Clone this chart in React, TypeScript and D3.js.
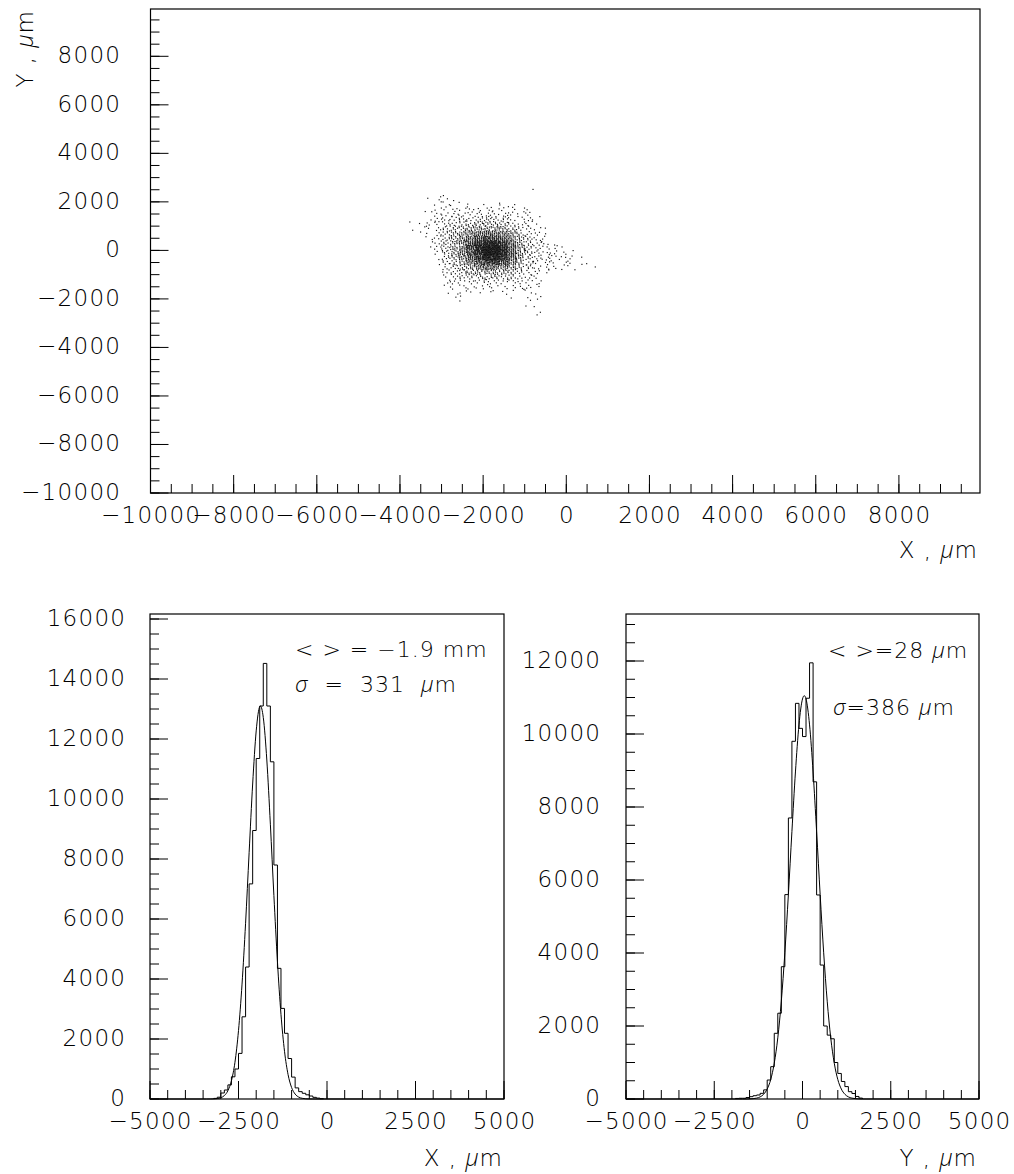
import React from 'react';
import * as d3 from 'd3';

const FONT = "'DejaVu Sans', sans-serif";
const FONT_GREEK = "'Open Sans', 'Lato', 'DejaVu Sans', sans-serif";

// ---------- 2D scatter: cell contents of 200 µm x 200 µm bins ----------
const scatterX0 = -4000; // lower x edge of first column
const scatterY0 = 2600; // upper y edge of first row
const scatterBin = 200;
const scatterCounts: number[][] = [
  [0, 0, 0, 0, 0, 0, 0, 0, 0, 0, 0, 0, 0, 0, 0, 1, 0, 0, 0, 0, 0, 0, 0, 0],
  [0, 0, 0, 0, 1, 1, 0, 0, 0, 0, 0, 0, 0, 0, 0, 0, 0, 0, 0, 0, 0, 0, 0, 0],
  [0, 0, 0, 1, 2, 1, 1, 0, 0, 0, 0, 0, 0, 0, 0, 0, 0, 0, 0, 0, 0, 0, 0, 0],
  [0, 0, 0, 0, 1, 2, 1, 1, 1, 0, 1, 1, 1, 2, 0, 0, 0, 0, 0, 0, 0, 0, 0, 0],
  [0, 0, 0, 1, 2, 2, 3, 2, 3, 2, 3, 2, 2, 2, 1, 1, 0, 0, 0, 0, 0, 0, 0, 0],
  [0, 0, 0, 1, 3, 3, 3, 3, 3, 4, 3, 3, 3, 3, 2, 3, 0, 0, 0, 0, 0, 0, 0, 0],
  [0, 0, 0, 1, 3, 3, 4, 5, 5, 5, 6, 5, 5, 3, 3, 3, 1, 0, 0, 0, 0, 0, 0, 0],
  [0, 1, 1, 2, 3, 4, 5, 6, 6, 8, 8, 8, 6, 5, 3, 3, 1, 0, 0, 0, 0, 0, 0, 0],
  [0, 1, 1, 2, 3, 5, 6, 8, 9, 11, 12, 11, 9, 6, 5, 3, 2, 1, 0, 0, 0, 0, 0, 0],
  [0, 0, 1, 1, 3, 5, 8, 11, 14, 18, 20, 18, 15, 11, 6, 4, 3, 1, 0, 0, 0, 0, 0, 0],
  [0, 0, 0, 2, 3, 6, 9, 13, 18, 26, 30, 28, 22, 14, 9, 5, 3, 2, 0, 0, 0, 0, 0, 0],
  [0, 0, 0, 1, 3, 6, 10, 15, 24, 36, 46, 44, 32, 19, 10, 6, 3, 3, 1, 0, 0, 0, 0, 0],
  [0, 0, 0, 1, 3, 6, 10, 16, 28, 44, 56, 55, 40, 22, 11, 6, 4, 3, 2, 1, 0, 0, 0, 0],
  [0, 0, 0, 0, 2, 6, 9, 16, 26, 42, 56, 56, 42, 22, 11, 7, 4, 3, 3, 2, 1, 0, 0, 0],
  [0, 0, 0, 0, 1, 5, 8, 14, 22, 34, 46, 48, 36, 20, 10, 6, 4, 3, 3, 3, 2, 1, 0, 0],
  [0, 0, 0, 0, 1, 5, 6, 11, 16, 24, 30, 32, 26, 15, 9, 5, 3, 3, 2, 2, 2, 1, 1, 0],
  [0, 0, 0, 0, 0, 3, 5, 8, 11, 15, 18, 18, 15, 10, 6, 5, 3, 2, 2, 1, 1, 1, 0, 1],
  [0, 0, 0, 0, 0, 3, 5, 6, 8, 9, 10, 10, 9, 6, 5, 3, 3, 2, 0, 0, 0, 0, 0, 0],
  [0, 0, 0, 0, 0, 2, 3, 5, 5, 6, 6, 6, 5, 5, 3, 3, 2, 0, 0, 0, 0, 0, 0, 0],
  [0, 0, 0, 0, 0, 2, 3, 3, 3, 3, 5, 3, 3, 3, 3, 3, 2, 0, 0, 0, 0, 0, 0, 0],
  [0, 0, 0, 0, 0, 1, 2, 3, 2, 2, 3, 2, 2, 2, 2, 3, 2, 0, 0, 0, 0, 0, 0, 0],
  [0, 0, 0, 0, 0, 1, 1, 2, 1, 1, 1, 1, 1, 1, 1, 2, 1, 0, 0, 0, 0, 0, 0, 0],
  [0, 0, 0, 0, 0, 0, 1, 1, 0, 0, 0, 0, 1, 1, 0, 1, 1, 0, 0, 0, 0, 0, 0, 0],
  [0, 0, 0, 0, 0, 0, 0, 1, 0, 0, 0, 0, 0, 0, 0, 1, 1, 0, 0, 0, 0, 0, 0, 0],
  [0, 0, 0, 0, 0, 0, 0, 0, 0, 0, 0, 0, 0, 0, 0, 1, 1, 0, 0, 0, 0, 0, 0, 0],
  [0, 0, 0, 0, 0, 0, 0, 0, 0, 0, 0, 0, 0, 0, 0, 0, 1, 0, 0, 0, 0, 0, 0, 0],
  [0, 0, 0, 0, 0, 0, 0, 0, 0, 0, 0, 0, 0, 0, 0, 0, 1, 0, 0, 0, 0, 0, 0, 0],
];

// ---------- X projection (100 µm bins) ----------
const histBin = 100;
const xHistStart = -3200;
const xHistCounts = [
  20, 60, 200, 300, 470, 740, 1000, 1520, 2740, 4400, 7170, 8950, 11350, 13100,
  14520, 13100, 11240, 7800, 4355, 3020, 2190, 1350, 730, 370, 245, 190, 140, 100,
  55, 30, 10,
];
const xFitX = [
  -5000, -3500, -3400, -3300, -3200, -3100, -3000, -2900, -2800, -2700, -2600, -2500,
  -2400, -2300, -2200, -2100, -2000, -1900, -1880, -1800, -1700, -1600, -1500, -1400,
  -1300, -1200, -1100, -1000, -900, -800, -700, -600, -500, -400, 5000,
];
const xFitY = [
  0, 0, 0.4, 1.3, 4.6, 15, 43, 113, 276, 608, 1225, 2280, 3830, 5860, 8210, 10500,
  12270, 13080, 13100, 12720, 11300, 9160, 6780, 4580, 2820, 1590, 816, 382, 164, 64,
  23, 7, 2, 0.5, 0,
];

// ---------- Y projection (100 µm bins) ----------
const yHistStart = -1900;
const yHistCounts = [
  15, 20, 20, 40, 64, 90, 110, 155, 250, 520, 886, 1800, 2350, 3625, 5600, 7700,
  9800, 10840, 10155, 9930, 10980, 11950, 8690, 5590, 3670, 2000, 1750, 1650, 1000,
  700, 480, 340, 200, 150, 70, 25,
];
const yFitX = [
  -5000, -1800, -1700, -1600, -1500, -1400, -1300, -1200, -1100, -1000, -900, -800,
  -700, -600, -500, -400, -300, -200, -100, 0, 50, 100, 200, 300, 400, 500, 600, 700,
  800, 900, 1000, 1100, 1200, 1300, 1400, 1500, 1600, 1700, 1800, 5000,
];
const yFitY = [
  0, 0.2, 0.4, 1.2, 3.5, 9.5, 24, 58, 130, 273, 534, 981, 1675, 2680, 4005, 5600, 7325,
  8960, 10250, 10960, 11050, 10960, 10250, 8960, 7325, 5600, 4005, 2680, 1675, 981,
  534, 273, 130, 58, 24, 9.5, 3.5, 1.2, 0.4, 0,
];

// ---------- tick values ----------
const topMajor = [-10000, -8000, -6000, -4000, -2000, 0, 2000, 4000, 6000, 8000];
const histXMajor = [-5000, -2500, 0, 2500, 5000];
const leftYMajor = [0, 2000, 4000, 6000, 8000, 10000, 12000, 14000, 16000];
const rightYMajor = [0, 2000, 4000, 6000, 8000, 10000, 12000];

const TICK_MAJ = 18;
const TICK_MIN = 9;
const LABEL_SIZE = 23;
const LS = 1.3; // letter spacing

const fmt = (v: number) => (v < 0 ? '\u2212' + Math.abs(v) : String(v));

function minorTicks(lo: number, hi: number, step: number) {
  const out: number[] = [];
  for (let v = Math.ceil(lo / step) * step; v <= hi + 1e-6; v += step) out.push(v);
  return out;
}

type Scale = d3.ScaleLinear<number, number>;

function Axes({
  sx, sy, xMajor, yMajor, xMinorStep, yMinorStep, xLabelY, yLabelX,
}: {
  sx: Scale; sy: Scale; xMajor: number[]; yMajor: number[]; xMinorStep: number;
  yMinorStep: number; xLabelY: number; yLabelX: number;
}) {
  const [x0, x1] = sx.range();
  const [y0, y1] = sy.range(); // y0 bottom, y1 top
  const xd = sx.domain();
  const yd = sy.domain();
  const xMin = minorTicks(xd[0], xd[1], xMinorStep);
  const yMin = minorTicks(yd[0], yd[1], yMinorStep);
  return (
    <g>
      <rect x={x0} y={y1} width={x1 - x0} height={y0 - y1} fill="none" stroke="#000" strokeWidth={1.2} />
      <g stroke="#000" strokeWidth={1}>
        {xMin.map((v, i) => (
          <line key={'xm' + i} x1={sx(v)} x2={sx(v)} y1={y0} y2={y0 - TICK_MIN} />
        ))}
        {xMajor.map((v, i) => (
          <line key={'xM' + i} x1={sx(v)} x2={sx(v)} y1={y0} y2={y0 - TICK_MAJ} />
        ))}
        {yMin.map((v, i) => (
          <line key={'ym' + i} x1={x0} x2={x0 + TICK_MIN} y1={sy(v)} y2={sy(v)} />
        ))}
        {yMajor.map((v, i) => (
          <line key={'yM' + i} x1={x0} x2={x0 + TICK_MAJ} y1={sy(v)} y2={sy(v)} />
        ))}
      </g>
      <g fontFamily={FONT} fontSize={LABEL_SIZE} fill="#000" fontWeight={200} letterSpacing={LS}>
        {xMajor.map((v, i) => (
          <text key={'xl' + i} x={sx(v) + LS / 2} y={xLabelY} textAnchor="middle">
            {fmt(v)}
          </text>
        ))}
        {yMajor.map((v, i) => (
          <text key={'yl' + i} x={yLabelX + LS} y={sy(v) + 7} textAnchor="end">
            {fmt(v)}
          </text>
        ))}
      </g>
    </g>
  );
}

function stepPath(start: number, counts: number[], sx: Scale, sy: Scale) {
  const p = d3.path();
  p.moveTo(sx(start), sy(0));
  counts.forEach((c, i) => {
    const lo = start + i * histBin;
    p.lineTo(sx(lo), sy(c));
    p.lineTo(sx(lo + histBin), sy(c));
  });
  p.lineTo(sx(start + counts.length * histBin), sy(0));
  return p.toString();
}

const Greek = ({ ch }: { ch: string }) => (
  <tspan fontFamily={FONT_GREEK} fontStyle="italic" fontWeight={300}>
    {ch}
  </tspan>
);

export default function App() {
  // top scatter
  const sx = d3.scaleLinear().domain([-10000, 9950]).range([150.5, 980]);
  const sy = d3.scaleLinear().domain([-10000, 9950]).range([493, 9]);

  // histograms
  const hx1 = d3.scaleLinear().domain([-5000, 5000]).range([150, 504]);
  const hy1 = d3.scaleLinear().domain([0, 16167]).range([1099, 614]);
  const hx2 = d3.scaleLinear().domain([-5000, 5000]).range([626, 979]);
  const hy2 = d3.scaleLinear().domain([0, 13288]).range([1099, 614]);

  const dots: React.ReactNode[] = [];
  scatterCounts.forEach((row, r) =>
    row.forEach((n, c) => {
      const xl = scatterX0 + c * scatterBin;
      const yt = scatterY0 - r * scatterBin;
      const px0 = sx(xl);
      const px1 = sx(xl + scatterBin);
      const py0 = sy(yt);
      const py1 = sy(yt - scatterBin);
      const seed = (r * 37 + c * 61 + r * c * 7) % 127;
      for (let k = 0; k < n; k++) {
        const t = k + seed;
        const fx = (0.37 + t * 0.7548776662) % 1;
        const fy = (0.61 + t * 0.569840291) % 1;
        dots.push(
          <rect
            key={`${r}-${c}-${k}`}
            x={px0 + fx * (px1 - px0) - 0.55}
            y={py0 + fy * (py1 - py0) - 0.55}
            width={1.15}
            height={1.15}
          />
        );
      }
    })
  );

  const fitLine = (xs: number[], ys: number[], hx: Scale, hy: Scale) =>
    d3
      .line<number>()
      .x((_, i) => hx(xs[i]))
      .y((d) => hy(d))
      .curve(d3.curveMonotoneX)(ys) || '';

  const textStyle = { whiteSpace: 'pre' as const };

  return (
    <svg
      width={1014}
      height={1174}
      style={{ position: 'absolute', left: 0, top: 0, background: '#fff', display: 'block' }}
    >
      <rect width={1014} height={1174} fill="#fff" />

      {/* ---------------- top scatter ---------------- */}
      <g fill="#111">{dots}</g>
      <Axes
        sx={sx}
        sy={sy}
        xMajor={topMajor}
        yMajor={topMajor}
        xMinorStep={500}
        yMinorStep={500}
        xLabelY={523}
        yLabelX={120}
      />
      <g fontFamily={FONT} fontSize={LABEL_SIZE} fontWeight={200} fill="#000" letterSpacing={1}>
        <text x={978} y={558} textAnchor="end" style={textStyle}>
          {'X , '}
          <Greek ch="μ" />
          {'m'}
        </text>
        <text transform="translate(33,10) rotate(-90)" textAnchor="end" style={textStyle}>
          {'Y , '}
          <Greek ch="μ" />
          {'m'}
        </text>
      </g>

      {/* ---------------- X projection ---------------- */}
      <path d={stepPath(xHistStart, xHistCounts, hx1, hy1)} fill="none" stroke="#000" strokeWidth={1} />
      <path d={fitLine(xFitX, xFitY, hx1, hy1)} fill="none" stroke="#000" strokeWidth={1} />
      <Axes
        sx={hx1}
        sy={hy1}
        xMajor={histXMajor}
        yMajor={leftYMajor}
        xMinorStep={500}
        yMinorStep={500}
        xLabelY={1129}
        yLabelX={125}
      />
      <g fontFamily={FONT} fontSize={LABEL_SIZE} fontWeight={200} fill="#000" letterSpacing={1}>
        <text x={503} y={1166} textAnchor="end" style={textStyle}>
          {'X , '}
          <Greek ch="μ" />
          {'m'}
        </text>
      </g>
      <g fontFamily={FONT} fontSize={22} fontWeight={200} fill="#000" letterSpacing={1}>
        <text x={295} y={657} style={textStyle}>
          {'< > = \u22121.9 mm'}
        </text>
        <text x={295} y={692} style={textStyle}>
          <Greek ch="σ" />
          {'  =  331  '}
          <Greek ch="μ" />
          {'m'}
        </text>
      </g>

      {/* ---------------- Y projection ---------------- */}
      <path d={stepPath(yHistStart, yHistCounts, hx2, hy2)} fill="none" stroke="#000" strokeWidth={1} />
      <path d={fitLine(yFitX, yFitY, hx2, hy2)} fill="none" stroke="#000" strokeWidth={1} />
      <Axes
        sx={hx2}
        sy={hy2}
        xMajor={histXMajor}
        yMajor={rightYMajor}
        xMinorStep={500}
        yMinorStep={500}
        xLabelY={1129}
        yLabelX={600}
      />
      <g fontFamily={FONT} fontSize={LABEL_SIZE} fontWeight={200} fill="#000" letterSpacing={1}>
        <text x={977} y={1166} textAnchor="end" style={textStyle}>
          {'Y , '}
          <Greek ch="μ" />
          {'m'}
        </text>
      </g>
      <g fontFamily={FONT} fontSize={22} fontWeight={200} fill="#000" letterSpacing={1}>
        <text x={828} y={658} style={textStyle}>
          {'< >=28 '}
          <Greek ch="μ" />
          {'m'}
        </text>
        <text x={833} y={715} style={textStyle}>
          <Greek ch="σ" />
          {'=386 '}
          <Greek ch="μ" />
          {'m'}
        </text>
      </g>
    </svg>
  );
}
